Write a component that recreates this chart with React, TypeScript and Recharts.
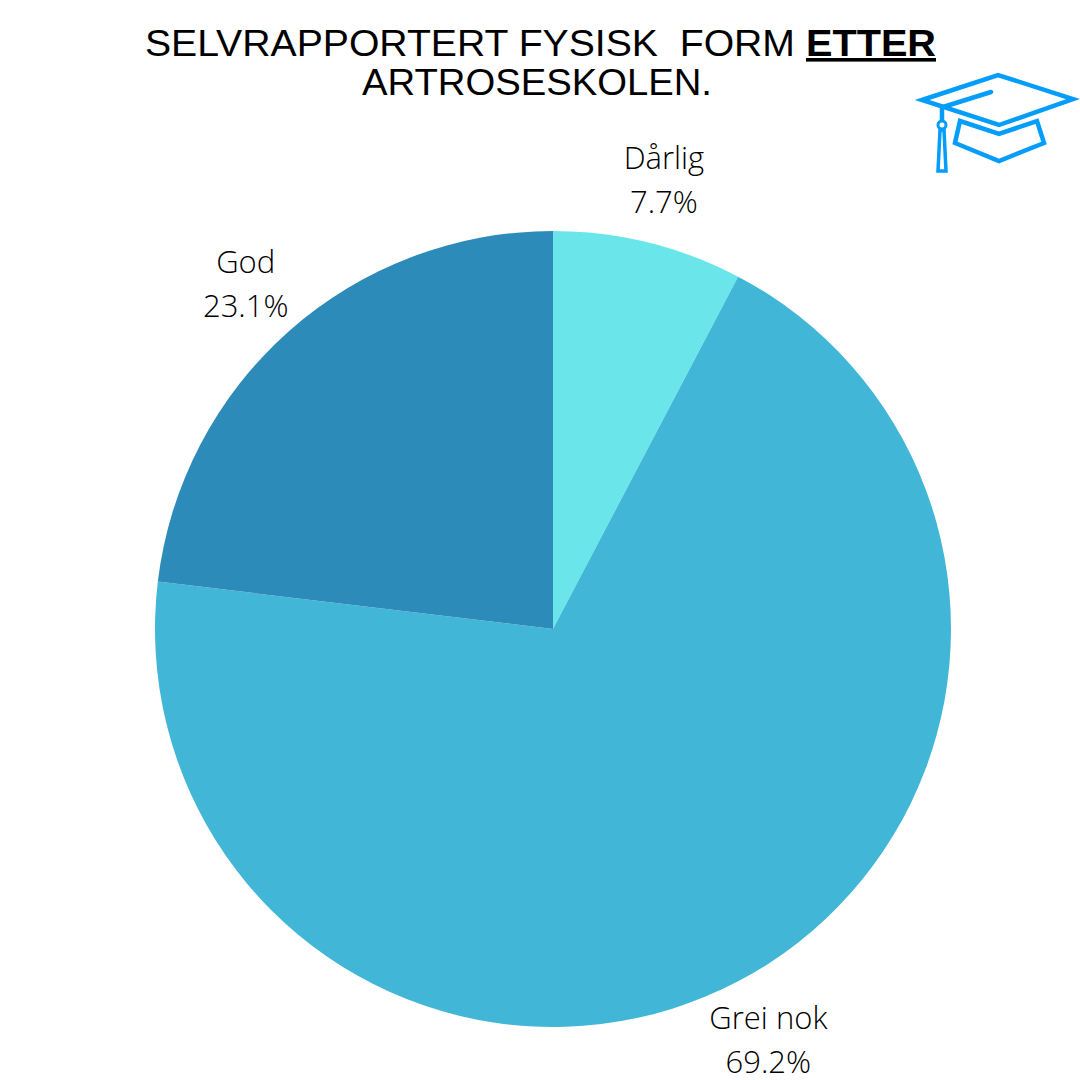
import React from 'react';
import { PieChart, Pie, Cell } from 'recharts';

const categories = ['Dårlig', 'Grei nok', 'God'];
const shares = [7.7, 69.2, 23.1];
const sliceColors = ['#6ae6ea', '#42b6d6', '#2d8bba'];

const data = categories.map((name, i) => ({ name, value: shares[i] }));

const RAD = Math.PI / 180;
const labelFont = '"Open Sans", sans-serif';
const titleFont = '"Liberation Sans", Arial, sans-serif';
const iconBlue = '#049df9';

// Two line label sitting outside the slice
const renderLabel = (props: any) => {
  const { cx, cy, midAngle, outerRadius, name, value } = props;
  const r = outerRadius + 65;
  const x = cx + r * Math.cos(-midAngle * RAD);
  const y = cy + r * Math.sin(-midAngle * RAD);
  return (
    <text
      x={x}
      y={y}
      textAnchor="middle"
      fontFamily={labelFont}
      fontWeight={300}
      fontSize={31}
      fill="#000"
    >
      <tspan x={x} dy={-10}>{name}</tspan>
      <tspan x={x} dy={44}>{value.toFixed(1)}%</tspan>
    </text>
  );
};

const Title = () => (
  <svg width={1080} height={120} style={{ position: 'absolute', left: 0, top: 0 }}>
    <text
      x={145}
      y={56}
      fontFamily={titleFont}
      fontSize={36}
      fill="#000"
      textLength={650}
      lengthAdjust="spacingAndGlyphs"
      style={{ whiteSpace: 'pre' }}
    >
      SELVRAPPORTERT FYSISK  FORM
    </text>
    <text
      x={806}
      y={56}
      fontFamily={titleFont}
      fontWeight={700}
      fontSize={36}
      fill="#000"
      textLength={130}
      lengthAdjust="spacingAndGlyphs"
      textDecoration="underline"
    >
      ETTER
    </text>
    <text
      x={362}
      y={95}
      fontFamily={titleFont}
      fontSize={36}
      fill="#000"
      textLength={350}
      lengthAdjust="spacingAndGlyphs"
    >
      ARTROSESKOLEN.
    </text>
  </svg>
);

const CapIcon = () => (
  <svg
    width={1080}
    height={200}
    style={{ position: 'absolute', left: 0, top: 0 }}
    fill="none"
    stroke={iconBlue}
    strokeWidth={4.5}
  >
    <polygon points="922,100 998,75 1073,99 999,125" />
    <polyline points="943,107 991,92" strokeLinecap="round" />
    <polygon points="960,121 999,134 1037,121 1044,143 999,161 955,143" />
    <line x1={942} y1={107} x2={942} y2={121} />
    <circle cx={942} cy={125} r={4} strokeWidth={3} />
    <polygon points="940,130 938,171 946,171 944,130" strokeWidth={3.5} />
  </svg>
);

export default function App() {
  return (
    <div style={{ position: 'absolute', left: 0, top: 0, width: 1080, height: 1080, background: '#fff' }}>
      <PieChart width={1080} height={1080} margin={{ top: 0, right: 0, bottom: 0, left: 0 }}>
        <Pie
          data={data}
          dataKey="value"
          nameKey="name"
          cx={553}
          cy={629}
          outerRadius={398}
          startAngle={90}
          endAngle={-270}
          stroke="none"
          label={renderLabel}
          labelLine={false}
          isAnimationActive={false}
        >
          {data.map((d, i) => (
            <Cell key={d.name} fill={sliceColors[i]} />
          ))}
        </Pie>
      </PieChart>
      <Title />
      <CapIcon />
    </div>
  );
}
